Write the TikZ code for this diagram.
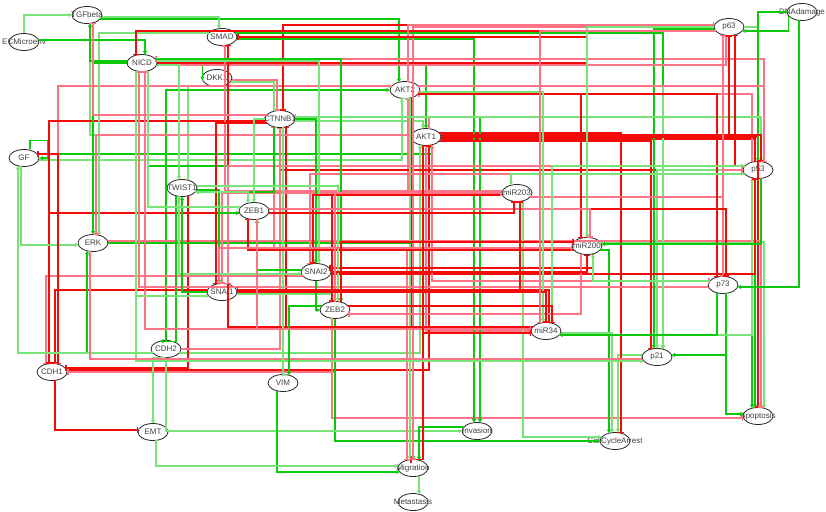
\documentclass[tikz,border=0pt]{standalone}
\usepackage{fontspec}
\setmainfont{Liberation Sans}
\usetikzlibrary{arrows.meta, shapes.geometric, calc}

\definecolor{actgreen}{RGB}{10,200,10}
\definecolor{actpale}{RGB}{120,228,120}
\definecolor{inhred}{RGB}{245,10,10}
\definecolor{inhpale}{RGB}{255,115,135}

\begin{document}
\begin{tikzpicture}[
    x=1pt, y=1pt,
    font=\fontsize{8}{9}\selectfont,
    state/.style={
        ellipse,
        draw=black!85,
        line width=0.8pt,
        minimum width=30pt,
        minimum height=17pt,
        inner sep=0pt,
        label={[text=black!75]center:#1}
    },
    act0/.style={draw=actgreen, line width=1.1pt, -{Triangle[length=3.5pt,width=4pt]}},
    act1/.style={draw=actpale, line width=1.4pt, -{Triangle[length=3.5pt,width=4pt]}},
    inh0/.style={draw=inhred, line width=1.1pt, -{Bar[width=6pt,line width=1.6pt]}},
    inh1/.style={draw=inhpale, line width=1.4pt, -{Bar[width=6pt,line width=1.6pt]}}
]
\useasboundingbox (0,0) rectangle (826,-511);

% Inputs and signalling
\node[state=ECMicroenv] (ECMicroenv) at (24,-42) {};
\node[state=TGFbeta] (TGFbeta) at (87,-15) {};
\node[state=DNAdamage] (DNAdamage) at (802,-12) {};
\node[state=GF] (GF) at (24,-158) {};
\node[state=NICD] (NICD) at (142,-63) {};
\node[state=SMAD] (SMAD) at (222,-37) {};
\node[state=DKK1] (DKK1) at (217,-78) {};
\node[state=AKT2] (AKT2) at (405,-90) {};
\node[state=CTNNB1] (CTNNB1) at (280,-119) {};
\node[state=AKT1] (AKT1) at (426,-137) {};
\node[state=ERK] (ERK) at (93,-243) {};

% p53 family and microRNAs
\node[state=p63] (p63) at (729,-27) {};
\node[state=p53] (p53) at (758,-170) {};
\node[state=p73] (p73) at (723,-285) {};
\node[state=p21] (p21) at (657,-357) {};
\node[state=miR203] (miR203) at (517,-193) {};
\node[state=miR200] (miR200) at (587,-246) {};
\node[state=miR34] (miR34) at (546,-331) {};

% EMT transcription factors and markers
\node[state=TWIST1] (TWIST1) at (182,-188) {};
\node[state=ZEB1] (ZEB1) at (254,-211) {};
\node[state=SNAI2] (SNAI2) at (316,-272) {};
\node[state=SNAI1] (SNAI1) at (222,-292) {};
\node[state=ZEB2] (ZEB2) at (335,-310) {};
\node[state=CDH2] (CDH2) at (166,-349) {};
\node[state=CDH1] (CDH1) at (52,-372) {};
\node[state=VIM] (VIM) at (283,-383) {};

% Phenotypes
\node[state=EMT] (EMT) at (153,-432) {};
\node[state=Invasion] (Invasion) at (477,-431) {};
\node[state=CellCycleArrest] (CellCycleArrest) at (615,-441) {};
\node[state=Apoptosis] (Apoptosis) at (758,-416) {};
\node[state=Migration] (Migration) at (413,-468) {};
\node[state=Metastasis] (Metastasis) at (413,-502) {};

% Interactions, routed orthogonally
\foreach \src/\tgt/\kind [count=\i] in {%
    % AKT1
    CTNNB1/AKT1/act,NICD/AKT1/act,TGFbeta/AKT1/act,GF/AKT1/act,CDH2/AKT1/act,%
    p53/AKT1/inh,miR34/AKT1/inh,CDH1/AKT1/inh,%
    % AKT2
    TWIST1/AKT2/act,TGFbeta/AKT2/act,GF/AKT2/act,CDH2/AKT2/act,%
    miR203/AKT2/inh,miR34/AKT2/inh,p53/AKT2/inh,%
    % Apoptosis
    p53/Apoptosis/act,p63/Apoptosis/act,p73/Apoptosis/act,miR200/Apoptosis/act,miR34/Apoptosis/act,%
    ZEB2/Apoptosis/inh,AKT1/Apoptosis/inh,ERK/Apoptosis/inh,%
    % CDH1
    TWIST1/CDH1/inh,SNAI2/CDH1/inh,ZEB1/CDH1/inh,ZEB2/CDH1/inh,SNAI1/CDH1/inh,AKT2/CDH1/inh,%
    % CDH2
    TWIST1/CDH2/act,%
    % CTNNB1
    DKK1/CTNNB1/inh,p53/CTNNB1/inh,AKT1/CTNNB1/inh,miR34/CTNNB1/inh,miR200/CTNNB1/inh,%
    CDH1/CTNNB1/inh,CDH2/CTNNB1/inh,p63/CTNNB1/inh,%
    % CellCycleArrest
    miR203/CellCycleArrest/act,miR200/CellCycleArrest/act,miR34/CellCycleArrest/act,%
    ZEB2/CellCycleArrest/act,p21/CellCycleArrest/act,AKT1/CellCycleArrest/inh,%
    % DKK1
    CTNNB1/DKK1/act,NICD/DKK1/act,%
    % EMT
    CDH2/EMT/act,CDH1/EMT/inh,%
    % ERK
    SMAD/ERK/act,CDH2/ERK/act,GF/ERK/act,NICD/ERK/act,AKT1/ERK/inh,%
    % GF
    CDH1/GF/inh,CDH2/GF/act,%
    % Invasion
    SMAD/Invasion/act,CDH2/Invasion/act,CTNNB1/Invasion/act,%
    % Metastasis
    Migration/Metastasis/act,%
    % Migration
    VIM/Migration/act,AKT2/Migration/act,ERK/Migration/act,EMT/Migration/act,Invasion/Migration/act,%
    miR200/Migration/inh,AKT1/Migration/inh,p63/Migration/inh,%
    % NICD
    ECMicroenv/NICD/act,p53/NICD/inh,p63/NICD/inh,p73/NICD/inh,miR200/NICD/inh,miR34/NICD/inh,%
    % p21
    SMAD/p21/act,NICD/p21/act,p63/p21/act,p53/p21/act,p73/p21/act,AKT2/p21/act,%
    AKT1/p21/inh,ERK/p21/inh,%
    % p53
    DNAdamage/p53/act,CTNNB1/p53/act,NICD/p53/act,miR34/p53/act,%
    SNAI2/p53/inh,p73/p53/inh,AKT1/p53/inh,AKT2/p53/inh,%
    % p63
    DNAdamage/p63/act,NICD/p63/inh,AKT1/p63/inh,AKT2/p63/inh,p53/p63/inh,miR203/p63/inh,%
    % p73
    DNAdamage/p73/act,p53/p73/inh,ZEB1/p73/inh,AKT1/p73/inh,AKT2/p73/inh,%
    % SMAD
    TGFbeta/SMAD/act,miR200/SMAD/inh,miR203/SMAD/inh,miR34/SMAD/inh,%
    % SNAI1
    NICD/SNAI1/act,TWIST1/SNAI1/act,miR203/SNAI1/inh,miR34/SNAI1/inh,p53/SNAI1/inh,CTNNB1/SNAI1/inh,%
    % SNAI2
    TWIST1/SNAI2/act,CTNNB1/SNAI2/act,NICD/SNAI2/act,miR200/SNAI2/inh,p53/SNAI2/inh,miR203/SNAI2/inh,%
    % TGFbeta
    ECMicroenv/TGFbeta/act,NICD/TGFbeta/act,CTNNB1/TGFbeta/inh,%
    % TWIST1
    CTNNB1/TWIST1/act,NICD/TWIST1/act,SNAI1/TWIST1/act,%
    % VIM
    CTNNB1/VIM/act,ZEB2/VIM/act,%
    % ZEB1
    TWIST1/ZEB1/act,SNAI1/ZEB1/act,CTNNB1/ZEB1/act,SNAI2/ZEB1/act,NICD/ZEB1/act,miR200/ZEB1/inh,%
    % ZEB2
    SNAI1/ZEB2/act,SNAI2/ZEB2/act,TWIST1/ZEB2/act,NICD/ZEB2/act,miR200/ZEB2/inh,miR203/ZEB2/inh,%
    % miR200
    p63/miR200/act,p53/miR200/act,p73/miR200/act,AKT2/miR200/inh,SNAI1/miR200/inh,%
    SNAI2/miR200/inh,ZEB1/miR200/inh,ZEB2/miR200/inh,%
    % miR203
    p53/miR203/act,ZEB1/miR203/inh,ZEB2/miR203/inh,SNAI1/miR203/inh,%
    % miR34
    p53/miR34/act,p73/miR34/act,AKT2/miR34/act,SNAI1/miR34/inh,ZEB1/miR34/inh,%
    ZEB2/miR34/inh,p63/miR34/inh,AKT1/miR34/inh}{
    % offset slot and bend of this connector
    \pgfmathtruncatemacro\slot{mod(\i,5)-2}
    \pgfmathtruncatemacro\bend{mod(\i,3)==0 ? 1 : 0}
    \pgfmathsetmacro\sdx{15*sqrt(1-(2*(\slot)/8.5)^2)}
    \pgfmathsetmacro\tdy{8.5*sqrt(1-(3*(\slot)/15)^2)}
    \path (\src.center); \pgfgetlastxy{\xa}{\ya}
    \path (\tgt.center); \pgfgetlastxy{\xb}{\yb}
    \pgfmathsetmacro\dx{\xb-\xa}
    \pgfmathsetmacro\dy{\yb-\ya}
    \pgfmathtruncatemacro\col{abs(\dx)<18 ? 1 : 0}
    \pgfmathtruncatemacro\row{abs(\dy)<16 ? 1 : 0}
    \pgfmathtruncatemacro\vs{\bend==0 ? \col : 1-\row}
    \pgfmathtruncatemacro\ve{\bend==0 ? 1-\row : \col}
    \pgfmathsetmacro\sgx{\dx>0 ? 1 : -1}
    \pgfmathsetmacro\sgy{\dy>0 ? 1 : -1}
    \pgfmathsetmacro\sx{\xa+(\vs==1 ? 3*(\slot) : (\sgx)*(\sdx))}
    \pgfmathsetmacro\sy{\ya+(\vs==1 ? (\sgy)*(\tdy) : 2*(\slot))}
    \pgfmathsetmacro\ex{\xb+(\ve==1 ? 3*(\slot) : -1*(\sgx)*(\sdx))}
    \pgfmathsetmacro\ey{\yb+(\ve==1 ? -1*(\sgy)*(\tdy) : 2*(\slot))}
    \pgfmathsetmacro\cx{\bend==0 ? \ex : \sx}
    \pgfmathsetmacro\cy{\bend==0 ? \sy : \ey}
    \ifnum\strcmp{\kind}{act}=0
        \ifodd\i
            \draw[act1] (\sx,\sy) -- (\cx,\cy) -- (\ex,\ey);
        \else
            \draw[act0] (\sx,\sy) -- (\cx,\cy) -- (\ex,\ey);
        \fi
    \else
        \ifodd\i
            \draw[inh1] (\sx,\sy) -- (\cx,\cy) -- (\ex,\ey);
        \else
            \draw[inh0] (\sx,\sy) -- (\cx,\cy) -- (\ex,\ey);
        \fi
    \fi
}

% GF sustains itself
\draw[act0] ([xshift=6pt]GF.north) -- ++(0,9) -| ($(GF.east)+(8,0)$) -- (GF.east);

\end{tikzpicture}
\end{document}
